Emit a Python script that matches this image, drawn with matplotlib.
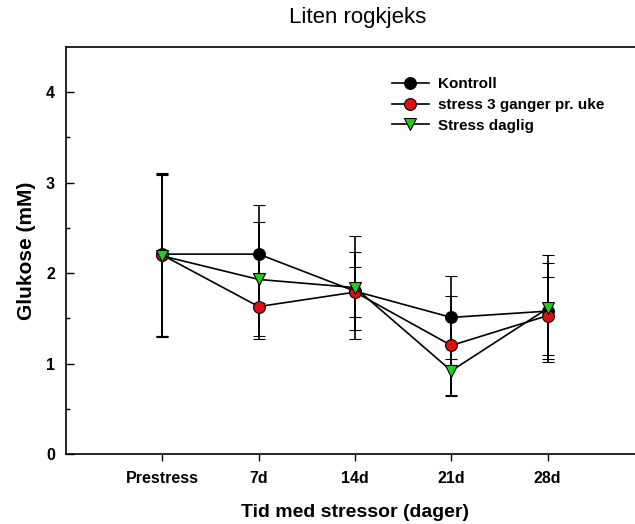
import matplotlib
matplotlib.use('Agg')
import matplotlib.pyplot as plt
from matplotlib.lines import Line2D

plt.rcParams['font.family'] = ['Liberation Sans', 'DejaVu Sans']

# data
times = ['Prestress', '7d', '14d', '21d', '28d']
kontroll = [2.21, 2.21, 1.80, 1.51, 1.58]
kontroll_err = [0.90, 0.54, 0.43, 0.46, 0.535]
stress3 = [2.20, 1.63, 1.79, 1.20, 1.53]
stress3_err = [0.90, 0.36, 0.28, 0.55, 0.43]
daglig = [2.19, 1.93, 1.84, 0.92, 1.61]
daglig_err = [0.90, 0.63, 0.57, 0.28, 0.59]

x = list(range(len(times)))

fig = plt.figure(figsize=(6.35, 5.24), dpi=100)
ax = fig.add_axes([66 / 635, 70 / 524, (644 - 66) / 635, (454 - 47) / 524])

series = [
    (kontroll, kontroll_err, 'Kontroll', 'o', 'black'),
    (stress3, stress3_err, 'stress 3 ganger pr. uke', 'o', '#e01010'),
    (daglig, daglig_err, 'Stress daglig', 'v', '#22cc22'),
]
handles = []
for vals, err, lab, mk, col in series:
    ax.errorbar(x, vals, yerr=err, color='black', lw=1.2, elinewidth=1.2,
                capsize=4.5, capthick=1.2, marker=mk, markersize=8.5,
                markerfacecolor=col, markeredgecolor='black',
                markeredgewidth=0.8, clip_on=False)
    handles.append(Line2D([], [], color='black', lw=1.2, marker=mk,
                          markersize=8.5, markerfacecolor=col,
                          markeredgecolor='black', markeredgewidth=0.8,
                          label=lab))

ax.set_xlim(-1, 5)
ax.set_ylim(0, 4.5)
ax.set_xticks(x)
ax.set_xticklabels(times, fontweight='bold', fontsize=11.5)
ax.set_yticks([0, 1, 2, 3, 4])
ax.set_yticks([0.5, 1.5, 2.5, 3.5], minor=True)
ax.tick_params(axis='y', which='major', direction='in', length=6, width=1,
               labelsize=11.5, pad=8)
ax.tick_params(axis='y', which='minor', direction='in', length=3, width=1)
ax.tick_params(axis='x', direction='out', length=5, width=1, pad=7)
for lbl in ax.get_yticklabels():
    lbl.set_fontweight('bold')
for s in ax.spines.values():
    s.set_linewidth(1.2)

ax.set_xlabel('Tid med stressor (dager)', fontsize=14, fontweight='bold', labelpad=13)
ax.set_ylabel('Glukose (mM)', fontsize=15, fontweight='bold', labelpad=7)
fig.text(358 / 635, 1 - 18 / 524, 'Liten rogkjeks', fontsize=16,
         ha='center', va='center')

leg = fig.legend(handles=handles, loc='upper left',
                 bbox_to_anchor=(392 / 635, 1 - 77 / 524),
                 frameon=False, fontsize=11, handlelength=2.4,
                 handletextpad=0.6, labelspacing=0.45, borderpad=0,
                 borderaxespad=0)
for t in leg.get_texts():
    t.set_fontweight('bold')

fig.savefig('out.png', dpi=100)
